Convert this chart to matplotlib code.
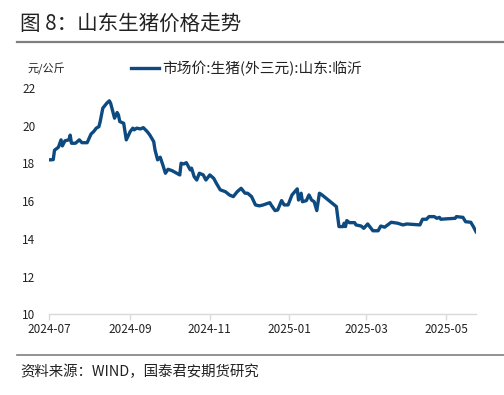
import matplotlib
matplotlib.use("Agg")
import matplotlib.pyplot as plt
import matplotlib.dates as mdates
import pandas as pd

plt.rcParams['font.family'] = ['Noto Sans CJK SC', 'DejaVu Sans']

# 市场价:生猪(外三元):山东:临沂  (元/公斤)
dates = [
    "2024-07-01", "2024-07-04", "2024-07-05", "2024-07-08", "2024-07-10", "2024-07-11",
    "2024-07-13", "2024-07-16", "2024-07-17", "2024-07-18", "2024-07-21", "2024-07-24",
    "2024-07-26", "2024-07-30", "2024-08-02", "2024-08-04", "2024-08-06", "2024-08-08",
    "2024-08-09", "2024-08-11", "2024-08-14", "2024-08-16", "2024-08-17", "2024-08-20",
    "2024-08-22", "2024-08-23", "2024-08-24", "2024-08-27", "2024-08-29", "2024-09-01",
    "2024-09-03", "2024-09-04", "2024-09-06", "2024-09-09", "2024-09-11", "2024-09-14",
    "2024-09-16", "2024-09-19", "2024-09-20", "2024-09-22", "2024-09-24", "2024-09-26",
    "2024-09-28", "2024-09-30", "2024-10-03", "2024-10-09", "2024-10-10", "2024-10-12",
    "2024-10-14", "2024-10-17", "2024-10-18", "2024-10-20", "2024-10-22", "2024-10-24",
    "2024-10-27", "2024-10-29", "2024-11-01", "2024-11-04", "2024-11-06", "2024-11-09",
    "2024-11-13", "2024-11-16", "2024-11-19", "2024-11-22", "2024-11-25", "2024-11-28",
    "2024-11-30", "2024-12-03", "2024-12-06", "2024-12-09", "2024-12-12", "2024-12-14",
    "2024-12-17", "2024-12-18", "2024-12-21", "2024-12-23", "2024-12-26", "2024-12-28",
    "2024-12-31", "2025-01-03", "2025-01-07", "2025-01-08", "2025-01-10", "2025-01-11",
    "2025-01-14", "2025-01-16", "2025-01-18", "2025-01-20", "2025-01-22", "2025-01-24",
    "2025-01-26", "2025-02-06", "2025-02-08", "2025-02-11", "2025-02-12", "2025-02-13",
    "2025-02-14", "2025-02-16", "2025-02-20", "2025-02-21", "2025-02-25", "2025-02-27",
    "2025-03-02", "2025-03-06", "2025-03-10", "2025-03-12", "2025-03-15", "2025-03-20",
    "2025-03-25", "2025-03-29", "2025-04-01", "2025-04-11", "2025-04-13", "2025-04-16",
    "2025-04-18", "2025-04-22", "2025-04-24", "2025-04-26", "2025-04-27", "2025-05-01",
    "2025-05-08", "2025-05-09", "2025-05-14", "2025-05-16", "2025-05-20", "2025-05-22",
    "2025-05-24",
]
prices = [
    18.19, 18.20, 18.70, 18.86, 19.25, 18.93,
    19.20, 19.25, 19.50, 19.07, 19.07, 19.25,
    19.10, 19.10, 19.56, 19.69, 19.87, 19.95,
    20.22, 20.93, 21.19, 21.32, 21.19, 20.40,
    20.70, 20.57, 20.22, 20.13, 19.25, 19.69,
    19.87, 19.78, 19.87, 19.83, 19.90, 19.69,
    19.51, 19.16, 18.72, 18.19, 18.33, 17.92,
    17.48, 17.69, 17.62, 17.39, 18.01, 17.97,
    18.04, 17.66, 17.75, 17.30, 17.12, 17.48,
    17.39, 17.12, 17.39, 17.21, 16.95, 16.60,
    16.50, 16.33, 16.24, 16.50, 16.68, 16.42,
    16.42, 16.24, 15.80, 15.75, 15.80, 15.85,
    15.92, 15.80, 15.50, 15.53, 16.03, 15.80,
    15.80, 16.33, 16.65, 16.06, 16.42, 15.97,
    16.03, 16.33, 16.06, 15.97, 15.50, 16.42,
    16.33, 15.71, 14.65, 14.65, 14.83, 14.65,
    14.97, 14.86, 14.86, 14.74, 14.68, 14.56,
    14.79, 14.43, 14.43, 14.68, 14.62, 14.88,
    14.83, 14.74, 14.79, 14.74, 15.04, 15.04,
    15.18, 15.18, 15.09, 15.14, 15.04, 15.06,
    15.09, 15.18, 15.14, 14.91, 14.88, 14.65,
    14.38,
]
yticks = [10, 12, 14, 16, 18, 20, 22]
xtick_dates = ["2024-07-01", "2024-09-01", "2024-11-01", "2025-01-01", "2025-03-01", "2025-05-01"]

series_name = "市场价:生猪(外三元):山东:临沂"
line_color = "#0d4a80"
axis_color = "#d9d9d9"
text_color = "#222222"

x = pd.to_datetime(dates)

fig = plt.figure(figsize=(5.04, 3.95), dpi=100)
fig.patch.set_facecolor("white")
ax = fig.add_axes([49.3 / 504, 1 - 314.3 / 395, (476 - 49.3) / 504, (314.3 - 88) / 395])

ax.plot(x, prices, color=line_color, lw=2.4, solid_joinstyle="round", label=series_name)

ax.set_ylim(10, 22)
ax.set_yticks(yticks)
ax.set_xlim(x[0], x[-1])
ax.set_xticks(pd.to_datetime(xtick_dates))
ax.xaxis.set_major_formatter(mdates.DateFormatter("%Y-%m"))

for side in ["top", "right", "left"]:
    ax.spines[side].set_visible(False)
ax.spines["bottom"].set_color(axis_color)
ax.spines["bottom"].set_linewidth(1.0)
ax.tick_params(axis="x", length=4, width=1, color=axis_color, labelsize=8.5,
               labelcolor=text_color, pad=2)
ax.tick_params(axis="y", length=0, labelsize=8.5, labelcolor=text_color, pad=10)

leg = ax.legend(loc="lower left", bbox_to_anchor=(131 / 504, 1 - 76 / 395),
                bbox_transform=fig.transFigure, frameon=False, fontsize=10.6,
                handlelength=1.9, handletextpad=0.25, borderpad=0, borderaxespad=0)
for t in leg.get_texts():
    t.set_color(text_color)

# 单位
fig.text(28 / 504, 1 - 69 / 395, "元/公斤", fontsize=8, color=text_color, va="center", ha="left")

# 标题与分隔线
fig.text(20 / 504, 1 - 24 / 395, "图 8：山东生猪价格走势", fontsize=14.8, color=text_color,
         va="center", ha="left")
fig.add_artist(plt.Line2D([17 / 504, 1.0], [1 - 42 / 395, 1 - 42 / 395],
                          transform=fig.transFigure, color="#7f7f7f", lw=1.6))
fig.add_artist(plt.Line2D([17 / 504, 1.0], [1 - 355 / 395, 1 - 355 / 395],
                          transform=fig.transFigure, color="#7f7f7f", lw=1.2))
fig.text(20 / 504, 1 - 372 / 395, "资料来源：WIND，国泰君安期货研究", fontsize=10.4,
         color=text_color, va="center", ha="left")

fig.savefig("out.png", dpi=100)
